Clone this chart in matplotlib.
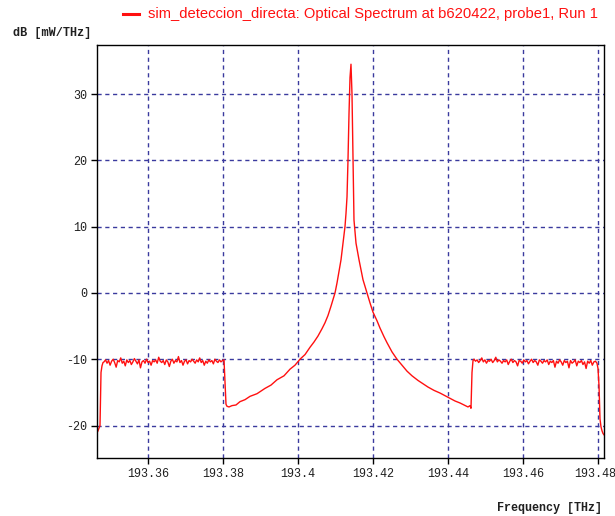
import numpy as np
import matplotlib
matplotlib.use("Agg")
import matplotlib.pyplot as plt
import matplotlib.transforms as mtransforms
from matplotlib.lines import Line2D

plt.rcParams['axes.unicode_minus'] = False

# ---- spectrum pieces (THz, dB) ----
# left filter edge
edge_l_f = [193.34640, 193.34667, 193.34693, 193.34720, 193.34747, 193.34773, 193.34800]
edge_l_db = [-21.1, -20.8, -20.4, -20.0, -12.0, -11.0, -10.5]

# flat noise floor, left band
flat_l_db = [-10.4, -10.1, -10.6, -10.2, -10.9, -10.3, -10.0, -10.5, -11.2, -10.2,
             -10.4, -9.8, -10.6, -10.3, -11.0, -10.1, -10.5, -10.2, -10.8, -10.4,
             -9.9, -10.3, -10.7, -10.1, -11.3, -10.4, -10.2, -10.6, -10.0, -10.5,
             -10.3, -10.9, -10.2, -10.4, -10.1, -10.6, -9.7, -10.3, -10.5, -10.2,
             -10.8, -10.1, -10.4, -11.1, -10.3, -10.0, -10.6, -10.2, -10.4, -9.6,
             -10.5, -10.2, -10.9, -10.3, -10.1, -10.7, -10.2, -10.4, -10.0, -10.3,
             -10.6, -10.1, -10.4, -9.8, -10.5, -10.2, -10.9, -10.3, -10.6, -10.1,
             -10.4, -10.2, -10.7, -10.0, -10.3, -10.5, -10.1, -10.4, -10.2, -10.1]
flat_l_start, flat_l_stop = 193.34827, 193.38027

# carrier with lorentzian-like skirts
carrier_f = [193.38053, 193.38080, 193.38107, 193.38160, 193.38240, 193.38347, 193.38453,
             193.38587, 193.38720, 193.38907, 193.39120, 193.39280, 193.39440, 193.39627,
             193.39787, 193.39920, 193.40053, 193.40187, 193.40320, 193.40427, 193.40533,
             193.40640, 193.40720, 193.40800, 193.40880, 193.40933, 193.40987, 193.41040,
             193.41093, 193.41147, 193.41200, 193.41227, 193.41253, 193.41280, 193.41307,
             193.41333, 193.41360, 193.41387, 193.41413, 193.41440, 193.41467, 193.41493,
             193.41547, 193.41627, 193.41733, 193.41840, 193.41920, 193.42000, 193.42107,
             193.42187, 193.42293, 193.42373, 193.42507, 193.42640, 193.42773, 193.42907,
             193.43040, 193.43200, 193.43333, 193.43467, 193.43627, 193.43787, 193.43920,
             193.44053, 193.44187, 193.44320, 193.44427, 193.44533, 193.44587, 193.44613,
             193.44640, 193.44667]
carrier_db = [-13.5, -16.8, -17.1, -17.2, -17.0, -16.9, -16.4,
              -16.1, -15.6, -15.2, -14.4, -13.9, -13.1, -12.5,
              -11.5, -10.9, -10.0, -9.3, -8.2, -7.4, -6.5,
              -5.4, -4.5, -3.4, -2.0, -1.0, 0.0, 1.5,
              3.2, 5.0, 7.5, 8.8, 10.0, 12.0, 14.5,
              20.0, 27.0, 32.5, 34.5, 30.0, 20.0, 11.0,
              7.5, 5.0, 2.0, 0.0, -1.5, -2.9, -4.2,
              -5.3, -6.6, -7.5, -8.9, -10.0, -10.9, -11.8,
              -12.5, -13.2, -13.7, -14.2, -14.7, -15.1, -15.5,
              -15.9, -16.3, -16.6, -16.9, -17.2, -17.0, -17.4,
              -12.0, -10.2]

# flat noise floor, right band
flat_r_db = [-10.0, -10.3, -10.1, -10.5, -10.2, -9.8, -10.4, -10.1, -10.6, -10.2,
             -10.3, -10.0, -10.5, -10.2, -9.7, -10.4, -10.1, -10.3, -10.6, -10.2,
             -10.4, -10.1, -10.8, -10.3, -10.0, -10.5, -10.2, -10.4, -11.0, -10.2,
             -10.3, -10.6, -10.1, -10.4, -10.2, -10.7, -10.3, -10.0, -10.5, -10.2,
             -10.4, -10.9, -10.1, -10.3, -10.6, -10.2, -10.4, -10.1, -10.8, -10.3,
             -10.5, -10.2, -11.2, -10.3, -10.6, -10.1, -10.4, -10.9, -10.2, -10.5,
             -10.3, -11.3, -10.2, -10.6, -10.4, -10.1, -11.0, -10.3, -10.5, -10.2,
             -10.8, -10.4, -11.4, -10.3, -10.6, -10.2, -10.9, -10.4, -10.3, -10.6]
flat_r_start, flat_r_stop = 193.44693, 193.47973

# right filter edge
edge_r_f = [193.48000, 193.48027, 193.48053, 193.48080, 193.48107, 193.48133, 193.48160]
edge_r_db = [-11.4, -14.0, -19.0, -20.2, -20.8, -21.2, -21.4]

xticks = [193.36, 193.38, 193.40, 193.42, 193.44, 193.46, 193.48]
xtick_labels = ['193.36', '193.38', '193.4', '193.42', '193.44', '193.46', '193.48']
yticks = [-20, -10, 0, 10, 20, 30]

# ---- assemble trace ----
flat_l_f = np.linspace(flat_l_start, flat_l_stop, len(flat_l_db))
flat_r_f = np.linspace(flat_r_start, flat_r_stop, len(flat_r_db))
freq = np.concatenate([edge_l_f, flat_l_f, carrier_f, flat_r_f, edge_r_f])
power = np.concatenate([edge_l_db, flat_l_db, carrier_db, flat_r_db, edge_r_db])

fig = plt.figure(figsize=(6.15, 5.16), dpi=100)
ax = fig.add_axes([97/615, 1-458/516, (604-97)/615, (458-45)/516])

ax.plot(freq, power, color='#ff1010', lw=1.0)

ax.set_xlim(193.3464, 193.4816)
ax.set_ylim(-24.9, 37.4)
ax.set_xticks(xticks)
ax.set_xticklabels(xtick_labels)
ax.set_yticks(yticks)

mono = 'Liberation Mono'
for lab in ax.get_xticklabels() + ax.get_yticklabels():
    lab.set_family(mono)
    lab.set_fontsize(8.5)
    lab.set_color('#202020')
ax.tick_params(direction='out', length=4, width=1, color='black', pad=3)
ax.tick_params(axis='y', pad=3)

# last frequency label sits against the right border
last = ax.get_xticklabels()[-1]
last.set_transform(last.get_transform() +
                   mtransforms.ScaledTranslation(-3/100, 0, fig.dpi_scale_trans))

ax.grid(True, color='#3a3a9e', lw=1.0, linestyle=(0, (3.0, 2.6)))
ax.set_axisbelow(True)
for sp in ax.spines.values():
    sp.set_linewidth(1.0)
    sp.set_color('black')

# legend line and caption
fig.add_artist(Line2D([123/615, 139/615], [1-13.5/516]*2, color='#ff1010', lw=2.2))
fig.text(148/615, 1-14/516,
         'sim_deteccion_directa: Optical Spectrum at b620422, probe1, Run 1',
         family='Liberation Sans', fontsize=10.6, color='#ff1010', va='center')

fig.text(13/615, 1-33/516, 'dB [mW/THz]', family=mono, fontsize=8.6,
         fontweight='bold', color='#202020', va='center')
fig.text(602/615, 1-508/516, 'Frequency [THz]', family=mono, fontsize=8.5,
         fontweight='bold', color='#202020', va='center', ha='right')

fig.savefig('out.png', dpi=100)
